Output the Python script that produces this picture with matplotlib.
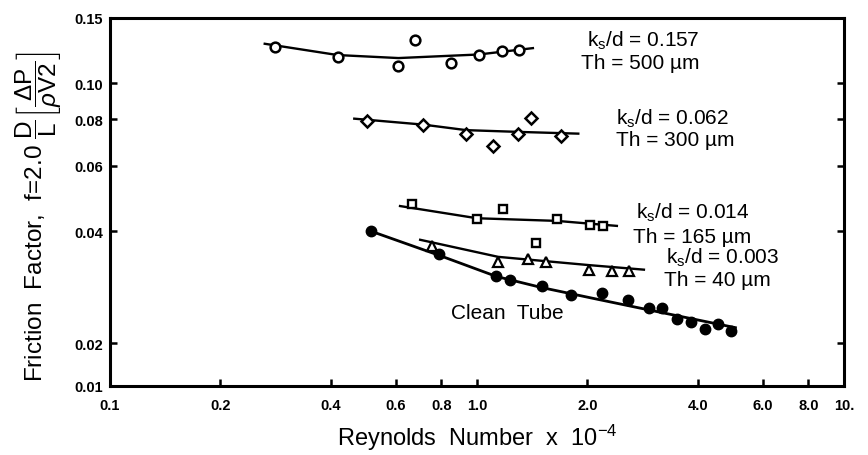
import numpy as np
import matplotlib
matplotlib.use("Agg")
import matplotlib.pyplot as plt
from matplotlib.ticker import NullLocator

plt.rcParams['font.family'] = ['Liberation Sans', 'DejaVu Sans']
plt.rcParams['mathtext.fontset'] = 'custom'
plt.rcParams['mathtext.rm'] = 'Liberation Sans'
plt.rcParams['mathtext.it'] = 'Liberation Sans:italic'
plt.rcParams['mathtext.bf'] = 'Liberation Sans:bold'

# Measured friction factors (Reynolds number x 1e-4)
re_500 = [0.282, 0.417, 0.611, 0.677, 0.851, 1.01, 1.167, 1.299]
f_500 = [0.1249, 0.1174, 0.1111, 0.1302, 0.1134, 0.1186, 0.1218, 0.1229]

re_300 = [0.503, 0.714, 0.935, 1.106, 1.295, 1.40, 1.697]
f_300 = [0.0791, 0.0772, 0.0729, 0.0677, 0.0731, 0.0805, 0.0720]

re_165 = [0.665, 0.999, 1.178, 1.452, 1.652, 2.03, 2.20]
f_165 = [0.0472, 0.0432, 0.0458, 0.0371, 0.0431, 0.0415, 0.0414]

re_40 = [0.756, 1.142, 1.380, 1.544, 2.02, 2.33, 2.60]
f_40 = [0.0364, 0.0330, 0.0336, 0.0331, 0.0314, 0.0313, 0.0312]

re_clean = [0.513, 0.789, 1.127, 1.229, 1.502, 1.80, 2.19, 2.575, 2.934,
            3.185, 3.516, 3.84, 4.19, 4.545, 4.93]
f_clean = [0.0400, 0.0346, 0.0303, 0.0296, 0.0285, 0.0270, 0.0272, 0.0261,
           0.0248, 0.0248, 0.0232, 0.02275, 0.02185, 0.0225, 0.0215]

# Hand-drawn trend curves through each data set
fit_500_x = [0.264, 0.417, 0.611, 1.01, 1.42]
fit_500_y = [0.1275, 0.1189, 0.1167, 0.1193, 0.1241]
fit_300_x = [0.463, 0.714, 0.935, 1.295, 1.888]
fit_300_y = [0.0802, 0.0773, 0.0747, 0.0739, 0.0731]
fit_165_x = [0.617, 1.0, 1.65, 2.405]
fit_165_y = [0.0467, 0.0433, 0.0426, 0.0413]
fit_40_x = [0.70, 1.142, 2.02, 2.85]
fit_40_y = [0.0379, 0.0341, 0.0324, 0.0315]
fit_clean_x = [0.513, 0.79, 1.13, 1.50, 2.14, 3.0, 5.06]
fit_clean_y = [0.0400, 0.0344, 0.0302, 0.0282, 0.0262, 0.02445, 0.0220]

x_ticks = [0.1, 0.2, 0.4, 0.6, 0.8, 1.0, 2.0, 4.0, 6.0, 8.0, 10.0]
x_tick_labels = ['0.1', '0.2', '0.4', '0.6', '0.8', '1.0', '2.0', '4.0', '6.0', '8.0', '10.']
y_bottom = 0.01538
y_ticks = [y_bottom, 0.02, 0.04, 0.06, 0.08, 0.10, 0.15]
y_tick_labels = ['0.01', '0.02', '0.04', '0.06', '0.08', '0.10', '0.15']

fig = plt.figure(figsize=(8.68, 4.56), dpi=100)
ax = fig.add_axes([110 / 868, 1 - 386.5 / 456, 734 / 868, 368 / 456])
ax.set_xscale('log')
ax.set_yscale('log')
ax.set_xlim(0.1, 10)
ax.set_ylim(y_bottom, 0.15)

lw = 1.7
ax.plot(fit_500_x, fit_500_y, color='black', lw=lw, zorder=2)
ax.plot(fit_300_x, fit_300_y, color='black', lw=lw, zorder=2)
ax.plot(fit_165_x, fit_165_y, color='black', lw=lw, zorder=2)
ax.plot(fit_40_x, fit_40_y, color='black', lw=lw, zorder=2)
ax.plot(fit_clean_x, fit_clean_y, color='black', lw=lw + 0.3, zorder=2)

ax.plot(re_500, f_500, 'o', ms=7, mfc='white', mec='black', mew=1.8, zorder=3)
ax.plot(re_300, f_300, 'D', ms=6.5, mfc='white', mec='black', mew=1.8, zorder=3)
ax.plot(re_165, f_165, 's', ms=6, mfc='white', mec='black', mew=1.7, zorder=3)
ax.plot(re_40, f_40, '^', ms=7.5, mfc='white', mec='black', mew=1.6, zorder=3)
ax.plot(re_clean, f_clean, 'o', ms=7.5, mfc='black', mec='black', zorder=3)

fs = 15
ax.text(2.83, 0.1310, r'$\mathrm{k_s}$/d = 0.157', fontsize=fs, ha='center', va='center')
ax.text(2.79, 0.1135, 'Th = 500 µm', fontsize=fs, ha='center', va='center')
ax.text(3.41, 0.0806, r'$\mathrm{k_s}$/d = 0.062', fontsize=fs, ha='center', va='center')
ax.text(3.47, 0.0704, 'Th = 300 µm', fontsize=fs, ha='center', va='center')
ax.text(3.88, 0.0450, r'$\mathrm{k_s}$/d = 0.014', fontsize=fs, ha='center', va='center')
ax.text(3.85, 0.0387, 'Th = 165 µm', fontsize=fs, ha='center', va='center')
ax.text(4.66, 0.0340, r'$\mathrm{k_s}$/d = 0.003', fontsize=fs, ha='center', va='center')
ax.text(4.51, 0.0297, 'Th = 40 µm', fontsize=fs, ha='center', va='center')
ax.text(1.21, 0.0242, 'Clean  Tube', fontsize=fs, ha='center', va='center')

ax.set_xticks(x_ticks)
ax.set_xticklabels(x_tick_labels)
ax.set_yticks(y_ticks)
ax.set_yticklabels(y_tick_labels)
ax.xaxis.set_minor_locator(NullLocator())
ax.yaxis.set_minor_locator(NullLocator())
ax.tick_params(axis='both', direction='in', length=5, width=1.8, labelsize=10.5, pad=5)
ax.tick_params(axis='x', pad=9)
ax.tick_params(axis='y', right=True)
for lab in ax.get_xticklabels() + ax.get_yticklabels():
    lab.set_fontweight('bold')
for sp in ax.spines.values():
    sp.set_linewidth(2.2)

ax.set_xlabel(r'Reynolds  Number  x  10$^{-4}$', fontsize=17)
ax.xaxis.set_label_coords(0.5, -0.098)
ax.set_ylabel(r'Friction  Factor,  f=2.0 $\dfrac{\mathrm{D}}{\mathrm{L}}'
              r'\left[\dfrac{\Delta \mathrm{P}}{\rho \mathrm{V2}}\right]$',
              fontsize=17.5)
ax.yaxis.set_label_coords(-0.063, 0.46)

fig.savefig('out.png', dpi=100)
